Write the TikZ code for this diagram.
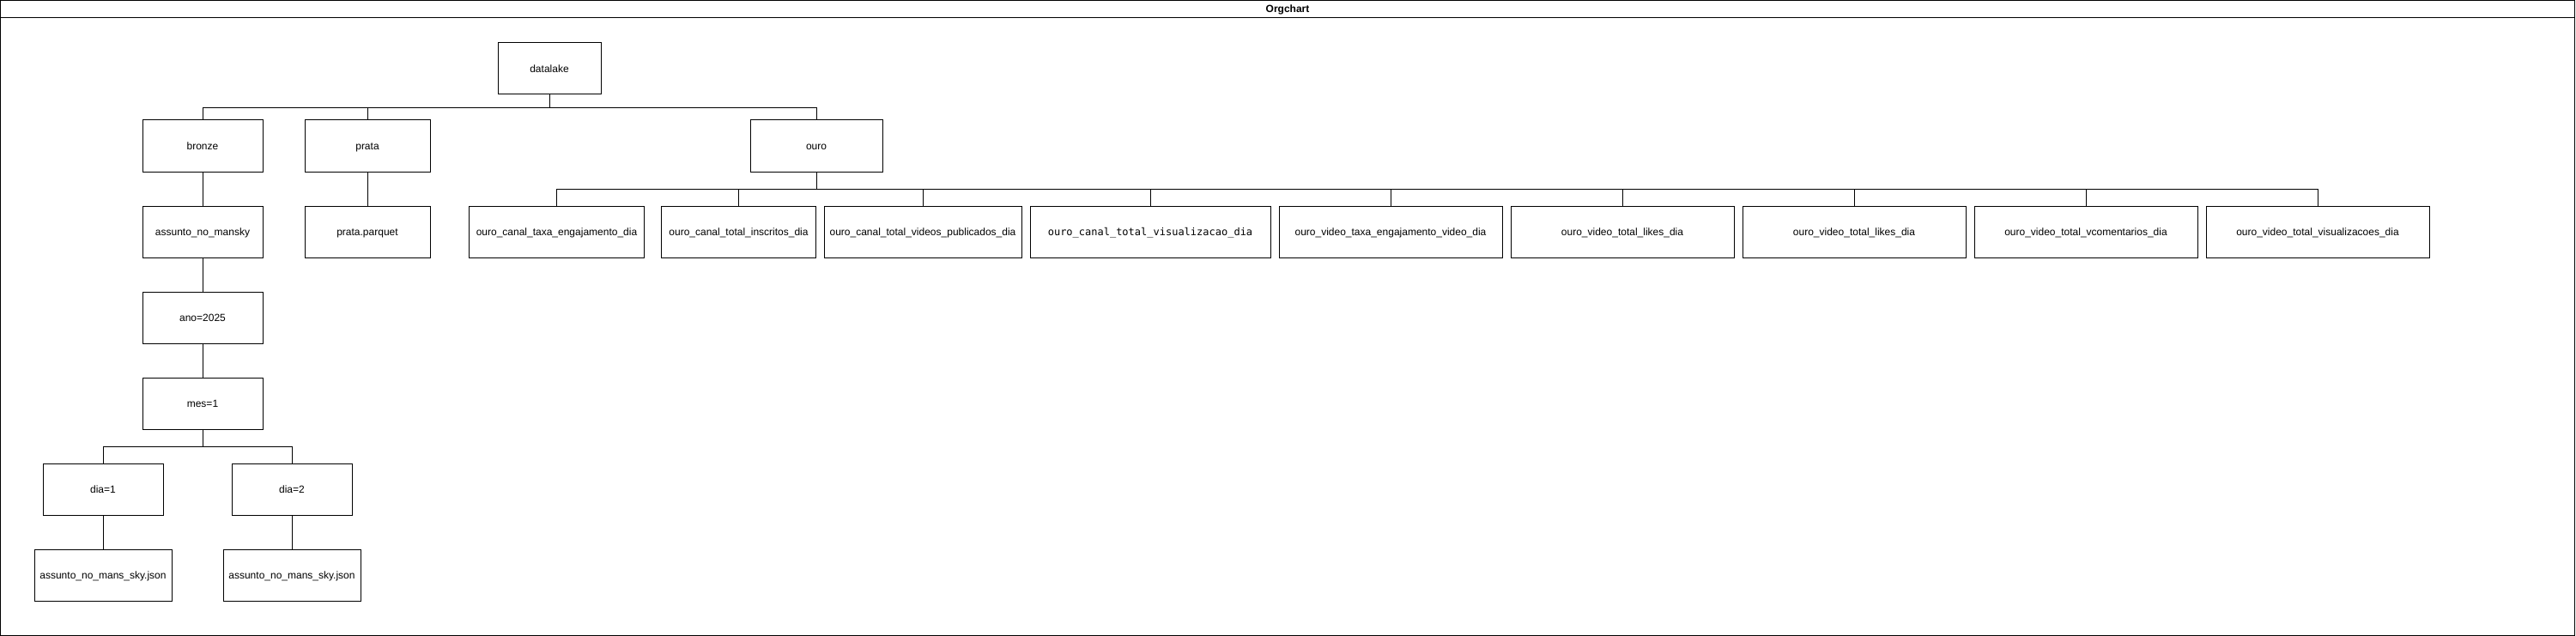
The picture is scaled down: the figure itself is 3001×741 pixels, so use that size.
\documentclass[tikz,border=0pt]{standalone}
\usepackage{fontspec}
\setmainfont{Liberation Sans}
\newfontfamily\monofont{DejaVu Sans Mono}
\begin{document}
\begin{tikzpicture}[x=1pt,y=-1pt,line width=1pt,font=\fontsize{12}{14}\selectfont]
                \useasboundingbox (0,0) rectangle (3001,741);
                \draw (0.5,0.5) rectangle (2999.5,740.5);
                \draw (0.5,20.5) -- (2999.5,20.5);
                \node[font=\fontsize{12}{14}\selectfont\bfseries,text height=8.6pt,text depth=0pt] (title) at (1500,10.5) {Orgchart};

                \begin{scope}[every node/.style={draw,rectangle,minimum height=60pt,inner sep=0pt,
                                                text height=8.6pt,text depth=0pt}]
                    \node[minimum width=120pt] (datalake) at (640,80) {datalake};
                    \node[minimum width=140pt] (bronze) at (236,170) {bronze};
                    \node[minimum width=146pt] (prata) at (428,170) {prata};
                    \node[minimum width=154pt] (ouro) at (951,170) {ouro};
                    \node[minimum width=140pt] (assunto) at (236,270) {assunto\_no\_mansky};
                    \node[minimum width=146pt] (parquet) at (428,270) {prata.parquet};
                    \node[minimum width=140pt] (ano) at (236,370) {ano=2025};
                    \node[minimum width=140pt] (mes) at (236,470) {mes=1};
                    \node[minimum width=140pt] (diaum) at (120,570) {dia=1};
                    \node[minimum width=140pt] (diadois) at (340,570) {dia=2};
                    \node[minimum width=160pt] (jsonum) at (120,670) {assunto\_no\_mans\_sky.json};
                    \node[minimum width=160pt] (jsondois) at (340,670) {assunto\_no\_mans\_sky.json};
                    \node[minimum width=204pt] (canaltaxa) at (648.5,270) {ouro\_canal\_taxa\_engajamento\_dia};
                    \node[minimum width=180pt] (canalinscritos) at (860.5,270) {ouro\_canal\_total\_inscritos\_dia};
                    \node[minimum width=230pt] (canalvideos) at (1075,270) {ouro\_canal\_total\_videos\_publicados\_dia};
                    \node[minimum width=280pt,font=\fontsize{12}{14}\monofont] (canalvisualizacao) at (1340,270) {ouro\_canal\_total\_visualizacao\_dia};
                    \node[minimum width=260pt] (videotaxa) at (1620,270) {ouro\_video\_taxa\_engajamento\_video\_dia};
                    \node[minimum width=260pt] (videolikes) at (1890,270) {ouro\_video\_total\_likes\_dia};
                    \node[minimum width=260pt] (videolikesb) at (2160,270) {ouro\_video\_total\_likes\_dia};
                    \node[minimum width=260pt] (videocomentarios) at (2430,270) {ouro\_video\_total\_vcomentarios\_dia};
                    \node[minimum width=260pt] (videovisualizacoes) at (2700,270) {ouro\_video\_total\_visualizacoes\_dia};
                \end{scope}

                \begin{scope}[every edge/.style={draw},
                            bus/.style={to path={-- ++(0,#1) -| (\tikztotarget)}}]
                    \path (datalake.south) edge[bus=15] (bronze.north);
                    \path (datalake.south) edge[bus=15] (prata.north);
                    \path (datalake.south) edge[bus=15] (ouro.north);
                    \path (bronze.south) edge (assunto.north);
                    \path (prata.south) edge (parquet.north);
                    \path (assunto.south) edge (ano.north);
                    \path (ano.south) edge (mes.north);
                    \path (mes.south) edge[bus=20] (diaum.north);
                    \path (mes.south) edge[bus=20] (diadois.north);
                    \path (diaum.south) edge (jsonum.north);
                    \path (diadois.south) edge (jsondois.north);
                    \path (ouro.south) edge[bus=20] (canaltaxa.north);
                    \path (ouro.south) edge[bus=20] (canalinscritos.north);
                    \path (ouro.south) edge[bus=20] (canalvideos.north);
                    \path (ouro.south) edge[bus=20] (canalvisualizacao.north);
                    \path (ouro.south) edge[bus=20] (videotaxa.north);
                    \path (ouro.south) edge[bus=20] (videolikes.north);
                    \path (ouro.south) edge[bus=20] (videolikesb.north);
                    \path (ouro.south) edge[bus=20] (videocomentarios.north);
                    \path (ouro.south) edge[bus=20] (videovisualizacoes.north);
                \end{scope}
\end{tikzpicture}
\end{document}
